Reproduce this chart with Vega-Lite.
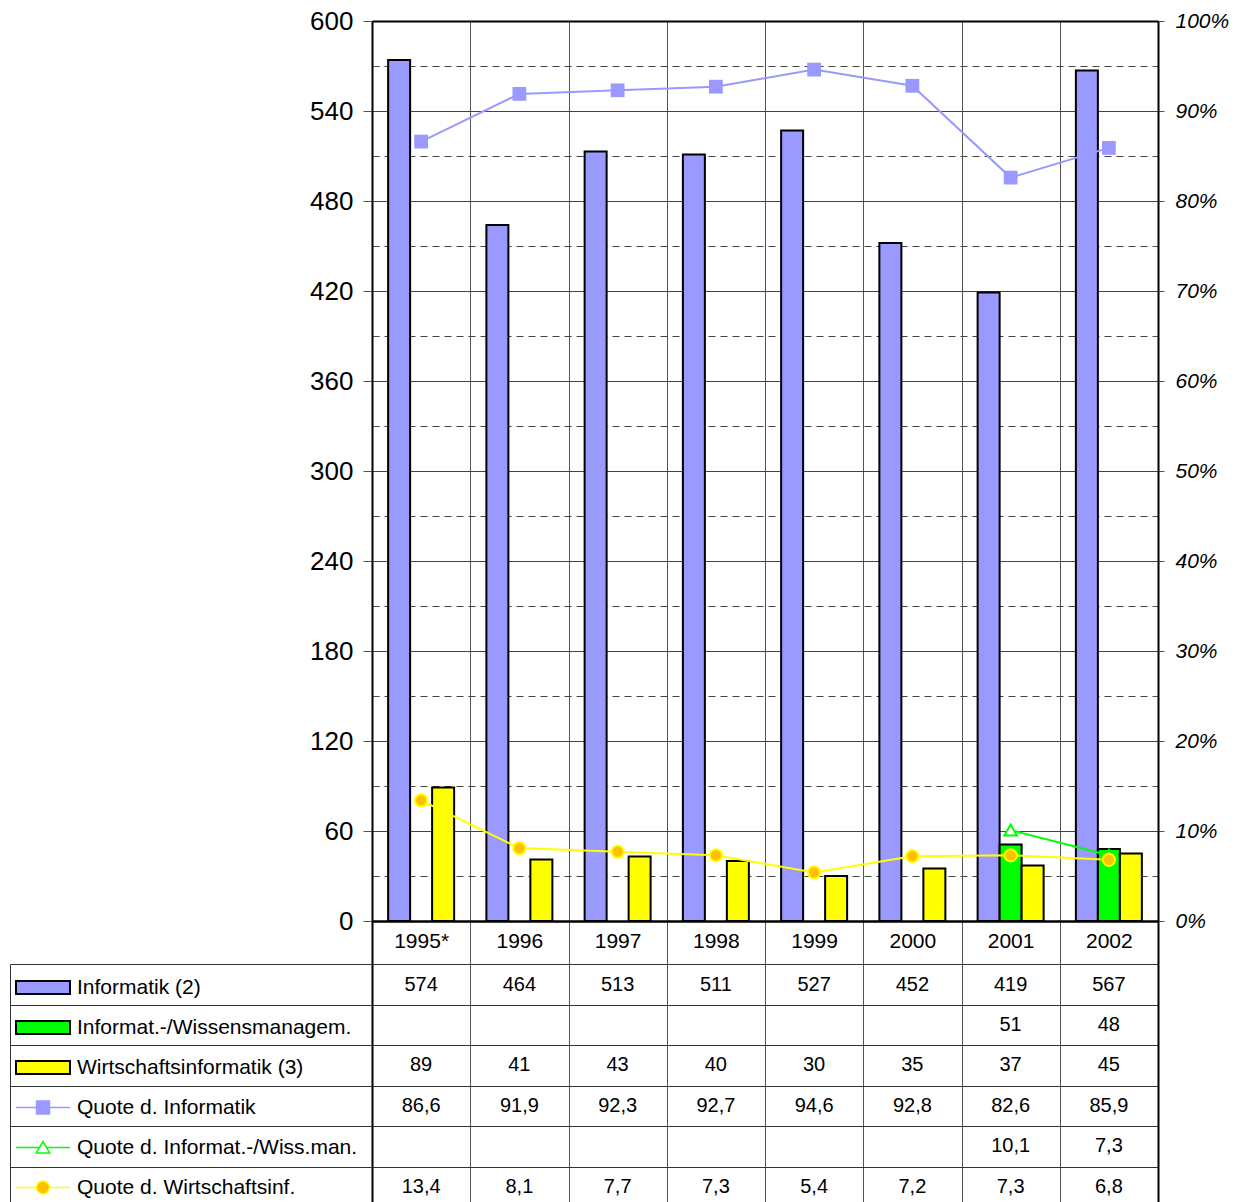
{
  "$schema": "https://vega.github.io/schema/vega-lite/v6.json",
  "width": 1148,
  "height": 1186,
  "autosize": {"type": "none"},
  "padding": {"left": 10, "top": 21, "right": 79, "bottom": 0},
  "background": "white",
  "config": {
    "view": {"stroke": null},
    "font": "Liberation Sans",
    "locale": {"number": {"decimal": ",", "thousands": ".", "grouping": [3], "currency": ["", " €"]}},
    "axis": {"labelFont": "Liberation Sans", "labelColor": "black"},
    "legend": {"labelFont": "Liberation Sans", "labelColor": "black"}
  },
  "datasets": {
    "balken": [
      {"jahr": "1995*", "reihe": "Informatik (2)", "wert": 574},
      {"jahr": "1996", "reihe": "Informatik (2)", "wert": 464},
      {"jahr": "1997", "reihe": "Informatik (2)", "wert": 513},
      {"jahr": "1998", "reihe": "Informatik (2)", "wert": 511},
      {"jahr": "1999", "reihe": "Informatik (2)", "wert": 527},
      {"jahr": "2000", "reihe": "Informatik (2)", "wert": 452},
      {"jahr": "2001", "reihe": "Informatik (2)", "wert": 419},
      {"jahr": "2002", "reihe": "Informatik (2)", "wert": 567},
      {"jahr": "2001", "reihe": "Informat.-/Wissensmanagem.", "wert": 51},
      {"jahr": "2002", "reihe": "Informat.-/Wissensmanagem.", "wert": 48},
      {"jahr": "1995*", "reihe": "Wirtschaftsinformatik (3)", "wert": 89},
      {"jahr": "1996", "reihe": "Wirtschaftsinformatik (3)", "wert": 41},
      {"jahr": "1997", "reihe": "Wirtschaftsinformatik (3)", "wert": 43},
      {"jahr": "1998", "reihe": "Wirtschaftsinformatik (3)", "wert": 40},
      {"jahr": "1999", "reihe": "Wirtschaftsinformatik (3)", "wert": 30},
      {"jahr": "2000", "reihe": "Wirtschaftsinformatik (3)", "wert": 35},
      {"jahr": "2001", "reihe": "Wirtschaftsinformatik (3)", "wert": 37},
      {"jahr": "2002", "reihe": "Wirtschaftsinformatik (3)", "wert": 45}
    ],
    "quoten": [
      {"jahr": "1995*", "reihe": "Quote d. Informatik", "wert": 86.6},
      {"jahr": "1996", "reihe": "Quote d. Informatik", "wert": 91.9},
      {"jahr": "1997", "reihe": "Quote d. Informatik", "wert": 92.3},
      {"jahr": "1998", "reihe": "Quote d. Informatik", "wert": 92.7},
      {"jahr": "1999", "reihe": "Quote d. Informatik", "wert": 94.6},
      {"jahr": "2000", "reihe": "Quote d. Informatik", "wert": 92.8},
      {"jahr": "2001", "reihe": "Quote d. Informatik", "wert": 82.6},
      {"jahr": "2002", "reihe": "Quote d. Informatik", "wert": 85.9},
      {"jahr": "2001", "reihe": "Quote d. Informat.-/Wiss.man.", "wert": 10.1},
      {"jahr": "2002", "reihe": "Quote d. Informat.-/Wiss.man.", "wert": 7.3},
      {"jahr": "1995*", "reihe": "Quote d. Wirtschaftsinf.", "wert": 13.4},
      {"jahr": "1996", "reihe": "Quote d. Wirtschaftsinf.", "wert": 8.1},
      {"jahr": "1997", "reihe": "Quote d. Wirtschaftsinf.", "wert": 7.7},
      {"jahr": "1998", "reihe": "Quote d. Wirtschaftsinf.", "wert": 7.3},
      {"jahr": "1999", "reihe": "Quote d. Wirtschaftsinf.", "wert": 5.4},
      {"jahr": "2000", "reihe": "Quote d. Wirtschaftsinf.", "wert": 7.2},
      {"jahr": "2001", "reihe": "Quote d. Wirtschaftsinf.", "wert": 7.3},
      {"jahr": "2002", "reihe": "Quote d. Wirtschaftsinf.", "wert": 6.8}
    ]
  },
  "layer": [
    {
      "data": {"name": "balken"},
      "mark": {"type": "bar", "stroke": "black", "strokeWidth": 2},
      "encoding": {
        "x": {
          "field": "jahr", "type": "nominal",
          "scale": {"type": "band", "domain": ["1995*", "1996", "1997", "1998", "1999", "2000", "2001", "2002"], "range": [362, 1148], "paddingInner": 0, "paddingOuter": 0, "round": false},
          "axis": {"orient": "bottom", "offset": -286, "title": null, "labelAngle": 0, "labelFontSize": 21, "labelPadding": 9, "ticks": false, "domain": true, "domainColor": "black", "domainWidth": 2, "grid": true, "gridColor": "#555555", "gridWidth": 1, "tickBand": "extent"}
        },
        "xOffset": {"field": "reihe", "type": "nominal", "scale": {"domain": ["Informatik (2)", "Informat.-/Wissensmanagem.", "Wirtschaftsinformatik (3)"], "paddingInner": 0, "paddingOuter": 0.733}},
        "y": {
          "field": "wert", "type": "quantitative",
          "scale": {"domain": [-190.66667, 600], "nice": false, "zero": false},
          "axis": {
            "orient": "left", "offset": -362, "title": null,
            "values": [0, 30, 60, 90, 120, 150, 180, 210, 240, 270, 300, 330, 360, 390, 420, 450, 480, 510, 540, 570, 600],
            "labelExpr": "datum.value % 60 === 0 ? datum.label : ''",
            "labelFontSize": 26, "labelPadding": 10,
            "domain": true, "domainColor": "black", "domainWidth": 2,
            "ticks": true, "tickColor": "#555555", "tickWidth": 1,
            "tickSize": {"condition": {"test": "datum.value % 60 !== 0", "value": -7}, "value": 9},
            "grid": true,
            "gridColor": {"condition": {"test": "datum.value === 600 || datum.value === 0", "value": "black"}, "value": "#444444"},
            "gridWidth": {"condition": {"test": "datum.value === 600 || datum.value === 0", "value": 2}, "value": 1},
            "gridDash": {"condition": {"test": "datum.value % 60 !== 0", "value": [7, 5]}, "value": []},
            "encode": {"domain": {"update": {"y": {"value": 900}}}}
          }
        },
        "fill": {
          "field": "reihe", "type": "nominal",
          "scale": {"domain": ["Informatik (2)", "Informat.-/Wissensmanagem.", "Wirtschaftsinformatik (3)"], "range": ["#9999ff", "#00ff00", "#ffff00"]},
          "legend": {"orient": "none", "legendX": 5, "legendY": 946.5, "title": null, "direction": "vertical", "symbolType": "M-1,-0.24H1V0.24H-1Z", "symbolSize": 2916, "symbolStrokeColor": "black", "symbolStrokeWidth": 2, "symbolOpacity": 1, "labelFontSize": 21, "labelLimit": 400, "labelOffset": 6, "clipHeight": 40, "rowPadding": 0, "padding": 0}
        }
      }
    },
    {
      "layer": [
        {
          "data": {"name": "balken"},
          "mark": {"type": "text", "fontSize": 20, "font": "Liberation Sans", "color": "black", "align": "center", "baseline": "middle"},
          "encoding": {
            "x": {"field": "jahr", "type": "nominal"},
            "y": {
              "field": "reihe", "type": "nominal",
              "scale": {"type": "band", "domain": ["Informatik (2)", "Informat.-/Wissensmanagem.", "Wirtschaftsinformatik (3)", "Quote d. Informatik", "Quote d. Informat.-/Wiss.man.", "Quote d. Wirtschaftsinf."], "range": [943.3, 1186], "paddingInner": 0, "paddingOuter": 0, "round": false},
              "axis": {"orient": "left", "offset": 0, "title": null, "labels": false, "domain": true, "domainColor": "#333333", "domainWidth": 1, "ticks": true, "tickSize": -362, "tickColor": "#333333", "tickWidth": 1, "tickBand": "extent", "grid": true, "gridColor": "#333333", "gridWidth": 1}
            },
            "text": {"field": "wert", "type": "quantitative", "format": ".0f"}
          }
        },
        {
          "data": {"name": "quoten"},
          "mark": {"type": "text", "fontSize": 20, "font": "Liberation Sans", "color": "black", "align": "center", "baseline": "middle"},
          "encoding": {
            "x": {"field": "jahr", "type": "nominal"},
            "y": {"field": "reihe", "type": "nominal"},
            "text": {"field": "wert", "type": "quantitative", "format": ".1f"}
          }
        }
      ]
    },
    {
      "data": {"name": "quoten"},
      "encoding": {
        "x": {"field": "jahr", "type": "nominal"},
        "y": {
          "field": "wert", "type": "quantitative",
          "scale": {"domain": [-31.77778, 100], "nice": false, "zero": false},
          "axis": {
            "orient": "right", "offset": 0, "title": null,
            "values": [0, 5, 10, 15, 20, 25, 30, 35, 40, 45, 50, 55, 60, 65, 70, 75, 80, 85, 90, 95, 100],
            "labelExpr": "datum.value % 10 === 0 ? datum.value + '%' : ''",
            "labelFontSize": 21, "labelFontStyle": "italic", "labelPadding": 11,
            "domain": true, "domainColor": "black", "domainWidth": 2,
            "ticks": true, "tickColor": "#555555", "tickWidth": 1,
            "tickSize": {"condition": {"test": "datum.value % 10 !== 0", "value": -5}, "value": 6},
            "grid": false,
            "encode": {"domain": {"update": {"y": {"value": 900}}}}
          }
        }
      },
      "layer": [
        {
          "mark": {"type": "line", "strokeWidth": 2},
          "encoding": {
            "stroke": {
              "field": "reihe", "type": "nominal",
              "scale": {"domain": ["Quote d. Informatik", "Quote d. Informat.-/Wiss.man.", "Quote d. Wirtschaftsinf."], "range": ["#9999ff", "#00ff00", "#ffff00"]},
              "legend": {
                "orient": "none", "legendX": 5, "legendY": 1066.5, "title": null, "direction": "vertical",
                "symbolType": "M-1,0H1", "symbolSize": 2916, "symbolStrokeWidth": 1.5, "symbolOpacity": 1,
                "labelFontSize": 21, "labelLimit": 400, "labelOffset": 6, "clipHeight": 40, "rowPadding": 0, "padding": 0,
                "encode": {
                  "symbols": {
                    "update": {
                      "shape": {"signal": "datum.value === 'Quote d. Informatik' ? 'M-1,0H1M-0.24,-0.24H0.24V0.24H-0.24Z' : (datum.value === 'Quote d. Wirtschaftsinf.' ? 'M-1,0H-0.24M0.24,0H1M-0.24,0A0.24,0.24,0,1,0,0.24,0A0.24,0.24,0,1,0,-0.24,0Z' : 'M-1,0H-0.13M0.13,0H1M0,-0.22L0.25,0.2L-0.25,0.2Z')"},
                      "fill": {"signal": "datum.value === 'Quote d. Informatik' ? '#9999ff' : (datum.value === 'Quote d. Wirtschaftsinf.' ? '#ffc000' : '#ffffff')"},
                      "fillOpacity": {"value": 1},
                      "strokeOpacity": {"value": 1}
                    }
                  }
                }
              }
            }
          }
        },
        {
          "transform": [{"filter": "datum.reihe === 'Quote d. Informatik'"}],
          "mark": {"type": "point", "shape": "square", "size": 190, "filled": true, "fill": "#9999ff", "strokeWidth": 0, "opacity": 1}
        },
        {
          "transform": [{"filter": "datum.reihe === 'Quote d. Informat.-/Wiss.man.'"}],
          "mark": {"type": "point", "shape": "triangle-up", "size": 160, "filled": true, "fill": "#ffffff", "stroke": "#00ff00", "strokeWidth": 2, "opacity": 1}
        },
        {
          "transform": [{"filter": "datum.reihe === 'Quote d. Wirtschaftsinf.'"}],
          "mark": {"type": "point", "shape": "circle", "size": 150, "filled": true, "fill": "#ffc000", "stroke": "#ffff00", "strokeWidth": 2, "opacity": 1}
        }
      ]
    }
  ],
  "resolve": {"scale": {"y": "independent"}, "axis": {"y": "independent"}}
}
